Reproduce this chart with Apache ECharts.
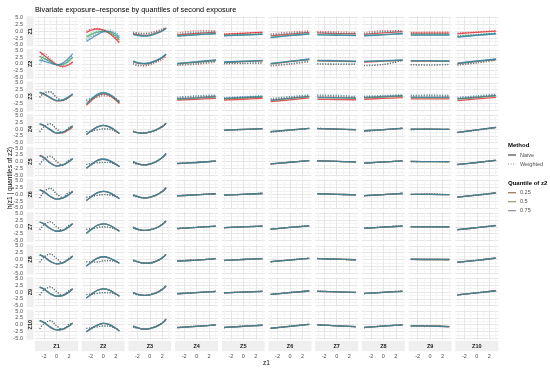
<!DOCTYPE html>
<html><head><meta charset="utf-8">
<script src="https://cdn.jsdelivr.net/npm/echarts@6/dist/echarts.min.js"></script>
<style>html,body{margin:0;padding:0;background:#fff}#c{width:550px;height:370px}</style>
</head><body><div id="c"></div>
<script>
const variables = ['Z1','Z2','Z3','Z4','Z5','Z6','Z7','Z8','Z9','Z10'];
const quantileLabels = ['0.25','0.5','0.75'];
const methodLabels = ['Naive','Weighted'];
const zFine = [-2.7,-2,-1,0,1,2,2.6];
const zFlat = [-3.1,0,3.1];
const xTickLabels = [-2,0,2];
const yTickLabels = [-5,-2.5,0,2.5,5];

// rows = quantile variable, columns = exposure on x; entry: null (diagonal), one array (all quantiles equal) or [q25,q50,q75]
const naiveZ1 = [
 null,
 [[-0.5,0.3,0.85,0.5,-0.8,-2.7,-4.2],[-2.2,-1.3,-0.3,0.0,-0.5,-1.8,-3.2],[-3.7,-2.7,-1.3,-0.2,0.0,-1.0,-2.4]],
 [[-0.8,-1.2,-1.5,-1.3,-0.6,0.3,1.2],[-1.0,-1.4,-1.7,-1.5,-0.8,0.2,1.1],[-1.1,-1.5,-1.8,-1.6,-0.9,0.1,1.0]],
 [[-1.3,-0.8,-0.3],[-1.7,-1.2,-0.8],[-1.8,-1.3,-0.9]],
 [[-1.1,-0.75,-0.4],[-1.6,-1.3,-1.0],[-1.7,-1.4,-1.1]],
 [[-1.7,-1.0,-0.4],[-2.2,-1.5,-0.9],[-2.3,-1.6,-1.0]],
 [[-0.6,-0.8,-0.9],[-1.2,-1.35,-1.5],[-1.3,-1.45,-1.6]],
 [[-1.1,-0.6,-0.1],[-1.6,-1.2,-0.8],[-1.7,-1.3,-0.9]],
 [[-0.7,-0.7,-0.7],[-1.3,-1.3,-1.3],[-1.4,-1.4,-1.4]],
 [[-0.9,-0.4,0.1],[-2.0,-1.4,-0.8],[-2.1,-1.5,-0.9]]
];
const weightedZ1 = [
 null,
 [[0.2,0.8,1.0,0.4,-0.8,-2.4,-3.6],[-1.6,-0.8,0.1,0.4,-0.1,-1.4,-2.8],[-3.0,-2.0,-0.8,0.3,0.5,-0.4,-1.8]],
 [[-0.3,-0.5,-0.7,-0.5,0.1,0.9,1.6],[-0.5,-0.7,-0.9,-0.7,-0.1,0.7,1.5],[-0.6,-0.8,-1.0,-0.8,-0.2,0.6,1.4]],
 [[-0.6,0.2,0.3],[-1.0,-0.3,-0.1],[-1.2,-0.5,-0.3]],
 [[-0.9,-0.6,-0.3],[-1.4,-1.1,-0.9],[-1.5,-1.2,-1.0]],
 [[-0.9,-0.3,0.2],[-1.3,-0.7,-0.2],[-1.4,-0.8,-0.3]],
 [[0.0,-0.2,-0.4],[-0.4,-0.6,-0.8],[-0.5,-0.7,-0.9]],
 [[-0.6,0.3,0.3],[-1.0,-0.1,-0.1],[-1.1,-0.2,-0.2]],
 [[-0.4,-0.3,-0.3],[-0.9,-0.9,-0.9],[-1.0,-1.0,-1.0]],
 [[-0.6,-0.2,0.3],[-1.6,-1.1,-0.6],[-1.7,-1.2,-0.7]]
];
const naiveZ2 = [
 [[4.4,3.2,1.3,-0.3,-0.9,-0.3,0.8],[2.8,2.0,0.8,-0.3,-0.2,1.2,2.6],[1.5,1.0,0.3,-0.3,0.3,2.2,3.8]],
 null,
 [[0.8,0.3,0.0,0.3,1.1,2.3,3.4],[0.9,0.4,0.1,0.4,1.2,2.4,3.5],[1.0,0.5,0.2,0.5,1.3,2.5,3.6]],
 [[0.0,0.6,1.2],[0.1,0.7,1.4],[0.2,0.8,1.5]],
 [[0.5,0.8,1.1],[0.6,0.9,1.2],[0.7,1.0,1.3]],
 [[0.0,0.8,1.6],[0.1,0.9,1.7],[0.2,1.0,1.8]],
 [[1.1,1.0,0.8],[1.2,1.1,0.9],[1.3,1.2,1.0]],
 [[0.7,1.0,1.3],[0.8,1.1,1.4],[0.9,1.2,1.5]],
 [[1.0,1.0,0.9],[1.1,1.1,1.0],[1.2,1.2,1.1]],
 [[0.1,0.9,1.6],[0.2,1.0,1.7],[0.3,1.1,1.8]]
];
const weightedZ2 = [
 [[2.5,3.8,2.0,0.0,-1.2,-0.2,0.6],[1.0,2.8,1.5,-0.2,-0.6,0.8,2.2],[-0.3,1.8,1.0,-0.4,-0.2,1.8,3.4]],
 null,
 [[0.0,-0.7,-0.8,-0.4,0.5,1.5,2.8],[0.1,-0.5,-0.6,-0.1,0.8,2.2,3.5],[0.2,-0.4,-0.5,0.0,0.9,2.3,3.6]],
 [[-0.6,-0.2,0.6],[-0.4,0.0,0.9],[-0.3,0.1,1.0]],
 [[0.0,0.1,0.3],[0.1,0.2,0.4],[0.2,0.3,0.5]],
 [[-0.8,-0.2,0.8],[-0.6,0.0,1.0],[-0.5,0.1,1.1]],
 [[-0.1,-0.2,-0.2],[0.0,-0.1,-0.1],[0.1,0.0,0.0]],
 [[-0.7,-0.3,1.2],[-0.6,-0.2,1.3],[-0.5,-0.1,1.4]],
 [[-0.4,-0.5,-0.3],[-0.3,-0.4,-0.2],[-0.2,-0.3,-0.1]],
 [[-0.5,0.3,1.3],[-0.4,0.4,1.4],[-0.3,0.5,1.5]]
];
const naiveZ3 = [
 [[1.4,0.8,-0.5,-1.6,-1.4,-0.3,0.8],[1.5,0.9,-0.4,-1.5,-1.3,-0.2,0.9],[1.6,1.0,-0.3,-1.4,-1.2,-0.1,1.0]],
 [[-3.2,-1.7,0.2,1.0,0.4,-1.3,-2.6],[-2.9,-1.4,0.5,1.3,0.7,-1.0,-2.3],[-2.6,-1.1,0.8,1.5,0.9,-0.8,-2.1]],
 null,
 [[-1.3,-1.0,-0.7],[-1.0,-0.6,-0.2],[-0.8,-0.4,0.1]],
 [[-1.3,-1.0,-0.7],[-0.9,-0.5,-0.2],[-0.7,-0.3,0.0]],
 [[-1.9,-1.2,-0.5],[-1.5,-0.8,-0.1],[-1.3,-0.6,0.1]],
 [[-1.0,-1.1,-1.2],[-0.4,-0.5,-0.7],[-0.2,-0.4,-0.5]],
 [[-1.0,-0.7,-0.4],[-0.5,-0.2,0.1],[-0.3,0.0,0.3]],
 [[-0.9,-0.9,-0.9],[-0.4,-0.4,-0.4],[-0.2,-0.2,-0.2]],
 [[-1.5,-0.9,-0.3],[-1.0,-0.4,0.2],[-0.8,-0.2,0.4]]
];
const weightedZ3 = [
 [[-0.4,1.2,1.6,-0.4,-1.6,-0.2,0.6],[-0.3,1.3,1.7,-0.3,-1.5,-0.1,0.7],[-0.2,1.4,1.8,-0.2,-1.4,0.0,0.8]],
 [[-1.6,-1.2,-0.4,0.2,0.0,-1.0,-2.0],[-1.3,-0.9,-0.1,0.5,0.3,-0.7,-1.7],[-1.0,-0.6,0.2,0.8,0.5,-0.5,-1.5]],
 null,
 [[-0.6,-0.2,0.1],[-0.4,0.1,0.4],[-0.2,0.3,0.6]],
 [[-1.0,-0.6,-0.3],[-0.6,-0.2,0.1],[-0.4,0.0,0.3]],
 [[-1.2,-0.5,0.2],[-0.9,-0.2,0.5],[-0.7,0.0,0.7]],
 [[0.1,0.0,-0.4],[0.4,0.3,-0.1],[0.6,0.5,0.1]],
 [[-0.3,0.0,0.3],[0.0,0.2,0.5],[0.2,0.4,0.7]],
 [[0.1,0.2,0.1],[0.3,0.4,0.3],[0.5,0.6,0.5]],
 [[-0.8,-0.2,0.4],[-0.5,0.1,0.7],[-0.3,0.3,0.9]]
];
const naiveZ4 = [
 [[1.8,1.2,-0.3,-1.5,-1.3,-0.2,0.8],[1.9,1.3,-0.2,-1.4,-1.1,0.1,1.2],[1.9,1.3,-0.2,-1.4,-1.1,0.1,1.2]],
 [-2.0,-0.8,0.7,1.4,0.8,-0.6,-1.6],
 [-0.9,-1.3,-1.5,-1.1,-0.3,0.9,2.2],
 null,
 [-0.4,-0.1,0.2],
 [-0.9,-0.3,0.3],
 [0.2,0.0,-0.2],
 [-0.6,-0.2,0.3],
 [0.0,0.0,-0.1],
 [-1.2,-0.3,0.6]
];
const weightedZ4 = [
 [[-1.0,0.8,1.9,0.0,-1.4,0.4,0.9],[-0.9,0.9,2.0,0.1,-1.3,0.6,1.1],[-0.9,0.9,2.0,0.1,-1.3,0.6,1.1]],
 [-0.9,-0.8,-0.3,0.1,0.0,-0.8,-1.5],
 [-0.7,-1.3,-1.4,-1.0,-0.2,1.0,2.1],
 null,
 [-0.5,-0.2,0.1],
 [-1.1,-0.5,0.3],
 [0.3,0.0,-0.3],
 [-0.8,-0.3,0.4],
 [-0.2,-0.1,-0.1],
 [-1.3,-0.4,0.5]
];
const naiveZ5 = [
 [[2.4,1.5,-0.4,-1.5,-1.2,0.0,1.1],[2.2,1.4,-0.5,-1.6,-1.2,0.1,1.2],[2.2,1.4,-0.5,-1.6,-1.2,0.1,1.2]],
 [-2.4,-1.2,0.4,0.9,0.4,-0.9,-1.8],
 [0.0,-0.7,-1.2,-0.9,0.0,1.5,3.0],
 [-0.7,-0.3,0.2],
 null,
 [-0.8,-0.2,0.4],
 [0.3,0.1,-0.1],
 [-0.5,-0.1,0.3],
 [0.1,0.0,0.0],
 [-1.0,-0.3,0.5]
];
const weightedZ5 = [
 [-1.0,0.9,2.0,0.1,-1.3,0.6,1.0],
 [-1.0,-0.7,-0.4,-0.3,-0.3,-1.0,-1.8],
 [-0.4,-0.9,-1.2,-0.8,0.1,1.5,2.9],
 [-0.6,-0.2,0.3],
 null,
 [-0.9,-0.2,0.5],
 [0.4,0.1,-0.2],
 [-0.6,-0.1,0.4],
 [0.0,0.1,-0.1],
 [-1.1,-0.3,0.6]
];
const naiveZ6 = [
 [1.6,0.9,-0.8,-1.8,-1.4,-0.1,1.1],
 [-2.3,-1.1,0.5,1.1,0.6,-0.7,-1.6],
 [-0.2,-0.8,-1.3,-1.1,-0.3,1.0,2.4],
 [-0.6,-0.2,0.2],
 [-0.3,0.0,0.3],
 null,
 [0.2,0.0,-0.2],
 [-0.5,-0.1,0.3],
 [0.0,0.0,-0.1],
 [-1.0,-0.3,0.5]
];
const weightedZ6 = [
 [-1.4,1.0,2.2,0.2,-1.2,0.7,0.7],
 [-1.1,-0.8,-0.4,-0.1,-0.2,-0.8,-1.6],
 [-0.5,-1.0,-1.3,-1.0,-0.2,1.1,2.4],
 [-0.5,-0.1,0.1],
 [-0.4,0.0,0.4],
 null,
 [0.3,0.0,-0.3],
 [-0.6,-0.1,0.4],
 [-0.1,0.1,-0.1],
 [-1.1,-0.2,0.6]
];
const naiveZ7 = [
 [1.8,1.1,-0.6,-1.6,-1.3,0.0,1.2],
 [-2.3,-1.1,0.5,1.1,0.6,-0.7,-1.6],
 [-0.1,-0.8,-1.3,-1.1,-0.4,0.9,2.2],
 [-0.6,-0.2,0.3],
 [-0.3,0.0,0.3],
 [-0.8,-0.2,0.4],
 null,
 [-0.5,-0.1,0.3],
 [0.1,0.0,0.0],
 [-1.0,-0.3,0.5]
];
const weightedZ7 = [
 [-1.0,0.8,1.9,0.1,-1.3,0.6,1.0],
 [-0.9,-0.7,-0.3,0.0,-0.2,-0.8,-1.5],
 [-0.5,-1.0,-1.3,-1.0,-0.3,1.0,2.2],
 [-0.5,-0.1,0.2],
 [-0.4,0.1,0.3],
 [-0.9,-0.1,0.5],
 null,
 [-0.6,0.0,0.4],
 [0.0,0.1,-0.1],
 [-1.1,-0.2,0.6]
];
const naiveZ8 = [
 [1.7,1.0,-0.7,-1.6,-1.2,0.1,1.3],
 [-2.4,-1.2,0.4,1.0,0.5,-0.6,-1.4],
 [-0.2,-0.8,-1.3,-1.3,-0.6,0.6,1.9],
 [-0.6,-0.2,0.3],
 [-0.3,0.0,0.3],
 [-0.8,-0.2,0.4],
 [0.3,0.1,-0.1],
 null,
 [0.1,0.0,0.0],
 [-1.0,-0.3,0.5]
];
const weightedZ8 = [
 [-1.0,0.9,2.0,0.4,-1.3,0.5,1.0],
 [-0.8,-0.9,-0.9,-0.5,-0.4,-0.8,-1.3],
 [-0.5,-0.9,-1.3,-1.2,-0.5,0.7,1.9],
 [-0.5,-0.1,0.2],
 [-0.4,0.1,0.3],
 [-0.9,-0.1,0.5],
 [0.4,0.1,-0.2],
 null,
 [0.0,0.1,-0.1],
 [-1.1,-0.2,0.6]
];
const naiveZ9 = [
 [1.8,1.1,-0.6,-1.5,-1.2,0.0,1.2],
 [-2.2,-1.0,0.6,1.2,0.7,-0.6,-1.5],
 [-0.2,-0.8,-1.2,-1.0,-0.3,1.0,2.3],
 [-0.6,-0.2,0.3],
 [-0.3,0.0,0.3],
 [-0.8,-0.2,0.4],
 [0.3,0.1,-0.1],
 [-0.5,-0.1,0.3],
 null,
 [-1.0,-0.3,0.5]
];
const weightedZ9 = [
 [-1.1,0.8,1.9,0.2,-1.3,0.6,1.0],
 [-0.9,-0.8,-0.5,-0.2,-0.2,-0.8,-1.4],
 [-0.5,-1.0,-1.2,-0.9,-0.2,1.1,2.3],
 [-0.5,-0.1,0.2],
 [-0.4,0.1,0.3],
 [-0.9,-0.1,0.5],
 [0.4,0.1,-0.2],
 [-0.6,0.0,0.4],
 null,
 [-1.1,-0.2,0.6]
];
const naiveZ10 = [
 [1.5,0.8,-0.9,-1.9,-1.6,-0.5,0.6],
 [-2.6,-1.5,-0.2,0.5,0.0,-1.3,-2.3],
 [-0.5,-1.1,-1.6,-1.4,-0.7,0.6,2.0],
 [-1.1,-0.6,-0.1],
 [-1.0,-0.6,-0.2],
 [-1.3,-0.6,0.1],
 [-0.1,-0.4,-0.7],
 [-1.0,-0.5,-0.1],
 [-0.4,-0.5,-0.7],
 null
];
const weightedZ10 = [
 [-1.5,0.4,1.5,-0.4,-1.8,0.1,0.5],
 [-1.3,-1.2,-0.8,-0.5,-0.6,-1.3,-2.1],
 [-0.9,-1.3,-1.6,-1.3,-0.6,0.7,2.0],
 [-1.0,-0.5,-0.2],
 [-1.1,-0.5,-0.2],
 [-1.4,-0.5,0.2],
 [0.0,-0.4,-0.8],
 [-1.1,-0.4,0.0],
 [-0.5,-0.4,-0.8],
 null
];
const naiveRows = [naiveZ1,naiveZ2,naiveZ3,naiveZ4,naiveZ5,naiveZ6,naiveZ7,naiveZ8,naiveZ9,naiveZ10];
const weightedRows = [weightedZ1,weightedZ2,weightedZ3,weightedZ4,weightedZ5,weightedZ6,weightedZ7,weightedZ8,weightedZ9,weightedZ10];

// ---- styling / layout ----
const FONT = 'Liberation Sans, Arial, sans-serif';
const qColors = ['#E0262C','#34A35A','#3A7FB4'];
const qKeyColors = ['#8a6a50','#7f9c68','#7b83a0'];
const L0 = 35, PW = 43, CP = 46.7, T0 = 16.3, PH = 30, RP = 32.6;
const MAJ = '#e6e6e6', MIN = '#f3f3f3', STRIP = '#efefef';

const grids = [], xAxes = [], yAxes = [], series = [], graphics = [];
for (let i = 0; i < 10; i++) {
  for (let j = 0; j < 10; j++) {
    const g = i * 10 + j;
    grids.push({ left: L0 + j * CP, top: T0 + i * RP, width: PW, height: PH });
    xAxes.push({
      gridIndex: g, type: 'value', min: -3.45, max: 3.45,
      axisLine: { show: false },
      axisTick: { show: false, customValues: [-3,-2,-1,0,1,2,3] },
      axisLabel: { show: i === 9, customValues: xTickLabels, margin: 14, fontSize: 5.5, color: '#4d4d4d', fontFamily: FONT },
      splitLine: { show: true, lineStyle: { color: [MIN, MAJ], width: 1 } }
    });
    yAxes.push({
      gridIndex: g, type: 'value', min: -5.5, max: 5.5,
      axisLine: { show: false },
      axisTick: { show: false, customValues: [-5,-3.75,-2.5,-1.25,0,1.25,2.5,3.75,5] },
      axisLabel: { show: j === 0, customValues: yTickLabels, margin: 12, fontSize: 5.5, color: '#4d4d4d', fontFamily: FONT,
        formatter: v => v.toFixed(1) },
      splitLine: { show: true, lineStyle: { color: [MAJ, MIN], width: 1 } }
    });
    for (let m = 0; m < 2; m++) {
      const entry = (m === 0 ? naiveRows : weightedRows)[i][j];
      if (!entry) continue;
      for (let q = 0; q < 3; q++) {
        const vals = (typeof entry[0] === 'number') ? entry : entry[q];
        const xs = vals.length === zFine.length ? zFine : zFlat;
        series.push({
          type: 'line', xAxisIndex: g, yAxisIndex: g,
          data: xs.map((x, k) => [x, vals[k]]),
          smooth: 0.35, showSymbol: false, silent: true, animation: false, z: 2 + m,
          lineStyle: { color: qColors[q], width: m ? 1.1 : 1.3, type: m ? [1, 1.6] : 'solid', opacity: 0.78 }
        });
      }
    }
  }
  // left strip
  graphics.push({ type: 'rect', shape: { x: 26.5, y: T0 + i * RP, width: 7, height: PH }, style: { fill: STRIP }, silent: true });
  graphics.push({ type: 'text', x: 30, y: T0 + i * RP + PH / 2, rotation: Math.PI / 2,
    style: { text: variables[i], fontSize: 5.5, fontWeight: 'bold', fill: '#1a1a1a', fontFamily: FONT, align: 'center', verticalAlign: 'middle' } });
}
for (let j = 0; j < 10; j++) {
  graphics.push({ type: 'rect', shape: { x: L0 + j * CP, y: 340.8, width: PW, height: 10.5 }, style: { fill: STRIP }, silent: true });
  graphics.push({ type: 'text', x: L0 + j * CP + PW / 2, y: 346, 
    style: { text: variables[j], fontSize: 5.5, fontWeight: 'bold', fill: '#1a1a1a', fontFamily: FONT, align: 'center', verticalAlign: 'middle' } });
}
// axis titles
graphics.push({ type: 'text', x: 10, y: 178, rotation: Math.PI / 2,
  style: { text: 'h(z1 | quantiles of z2)', fontSize: 6.5, fill: '#000', fontFamily: FONT, align: 'center', verticalAlign: 'middle' } });
graphics.push({ type: 'text', x: 266.5, y: 363,
  style: { text: 'z1', fontSize: 6.5, fill: '#000', fontFamily: FONT, align: 'center', verticalAlign: 'middle' } });
// legend
const LX = 508;
graphics.push({ type: 'text', x: LX, y: 145, style: { text: 'Method', fontSize: 6, fontWeight: 'bold', fill: '#000', fontFamily: FONT, verticalAlign: 'middle' } });
methodLabels.forEach((lab, k) => {
  const y = 155 + k * 9;
  graphics.push({ type: 'line', shape: { x1: LX, y1: y, x2: LX + 8, y2: y },
    style: { stroke: k ? '#888' : '#333', lineWidth: 1.1, lineDash: k ? [1, 1.6] : null } });
  graphics.push({ type: 'text', x: LX + 12, y: y, style: { text: lab, fontSize: 5.5, fill: '#4d4d4d', fontFamily: FONT, verticalAlign: 'middle' } });
});
graphics.push({ type: 'text', x: LX, y: 183, style: { text: 'Quantile of z2', fontSize: 6, fontWeight: 'bold', fill: '#000', fontFamily: FONT, verticalAlign: 'middle' } });
quantileLabels.forEach((lab, k) => {
  const y = 192.7 + k * 9;
  graphics.push({ type: 'line', shape: { x1: LX, y1: y, x2: LX + 8, y2: y }, style: { stroke: qKeyColors[k], lineWidth: 1.1 } });
  graphics.push({ type: 'text', x: LX + 12, y: y, style: { text: lab, fontSize: 5.5, fill: '#4d4d4d', fontFamily: FONT, verticalAlign: 'middle' } });
});

const chart = echarts.init(document.getElementById('c'), null, { renderer: 'canvas' });
chart.setOption({
  animation: false,
  backgroundColor: '#ffffff',
  title: { text: 'Bivariate exposure\u2013response by quantiles of second exposure', left: 35, top: 6, padding: 0,
    textStyle: { fontSize: 7.3, fontWeight: 'normal', color: '#000', fontFamily: FONT } },
  grid: grids, xAxis: xAxes, yAxis: yAxes, series: series, graphic: graphics
});
</script></body></html>
